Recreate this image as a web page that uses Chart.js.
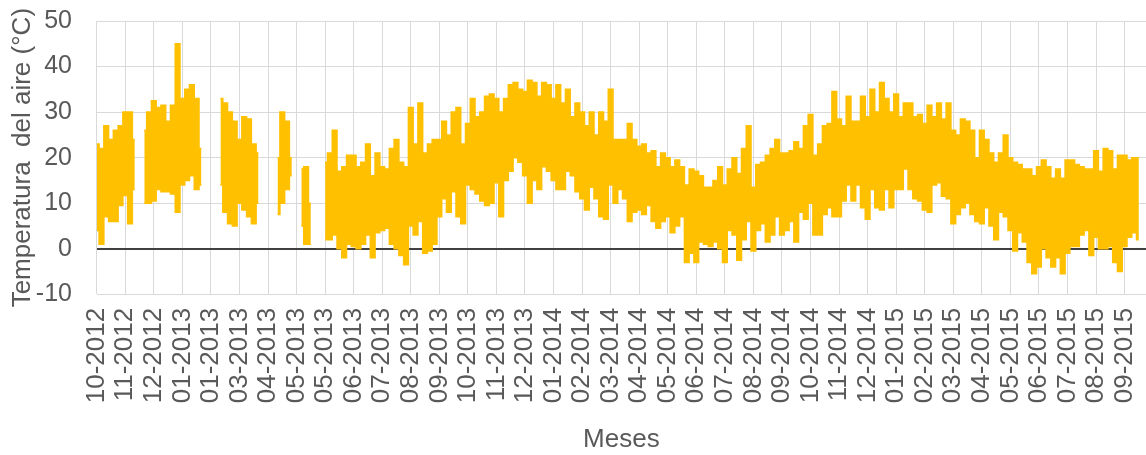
<!DOCTYPE html>
<html>
<head>
<meta charset="utf-8">
<script src="https://cdn.jsdelivr.net/npm/chart.js@4.4.1/dist/chart.umd.min.js"></script>
<style>
  html, body { margin: 0; padding: 0; background: #fff; }
  canvas { display: block; }
</style>
</head>
<body>
<canvas id="chart" width="1146" height="455"></canvas>
<script>
// readings between two labelled ticks
const PER_TICK = 6

const TICK_LABELS = [
	'10-2012', '11-2012', '12-2012', '01-2013', '01-2013', '03-2013', '04-2013', '05-2013',
	'05-2013', '06-2013', '07-2013', '08-2013', '09-2013', '10-2013', '11-2013', '12-2013',
	'01-2014', '02-2014', '03-2014', '04-2014', '05-2014', '06-2014', '07-2014', '08-2014',
	'09-2014', '10-2014', '11-2014', '12-2014', '01-2015', '02-2015', '03-2015', '04-2015',
	'05-2015', '06-2015', '07-2015', '08-2015', '09-2015'
]

// upper edge of the hourly trace (°C), one row per tick interval
const T_HIGH = [
	23, 22, 27, 24, 26, 27,
	30, 30, 24, null, 26, 30,
	32.5, 31, 31.5, 28, 31.5, 45,
	33, 35, 36, 33, 22, null,
	null, null, 33, 32, 30, 28,
	24, 29, 28.5, 23, 21, null,
	null, null, 20, 30, 28, 20,
	null, 17.5, 18, 10, null, null,
	19, 21, 26, 17, 18, 20.5,
	20.5, 18, 19, 23, 16, 21,
	18, 17.5, 22, 24, 19, 18,
	31, 23, 32, 21, 23, 24,
	24, 28, 25, 30, 31, 23,
	27.5, 33, 29, 30, 33.5, 34,
	33, 30, 33, 36, 36.5, 35,
	34.5, 37, 36.5, 33.5, 36.5, 36,
	33, 36, 32, 35, 29, 32,
	30, 27, 30, 25, 30, 28,
	35, 24, 24, 24, 27.5, 24,
	22.5, 23, 21, 21.5, 18, 21,
	20, 18, 19.5, 18, 14, 17.5,
	17, 16, 13.5, 13.5, 15, 18,
	14, 17.5, 20, 16.5, 22, 27,
	13.5, 18.5, 19, 20.5, 22, 24,
	21, 21, 21.5, 23.5, 22, 27,
	29.5, 20.5, 23, 27, 27.5, 34.5,
	28.5, 27, 33.5, 28, 28, 33.5,
	29, 35, 30, 36.5, 33, 30,
	34, 29, 32, 32, 29, 29.5,
	27.5, 31.5, 29, 32, 28.5, 32,
	26, 25, 28.5, 28, 26, 20,
	26, 24, 21, 19, 21, 25,
	20, 19, 18.5, 17.5, 17.5, 16,
	18, 19.5, 18, 15.5, 17.5, 15.5,
	19.5, 19.5, 18.5, 18, 17.5, 17.5,
	21.5, 17, 22, 21.5, 17.5, 20.5,
	20.5, 19.5, 20, 20
]

// lower edge of the hourly trace (°C)
const T_LOW = [
	4, 1, 7, 6, 6, 9.5,
	11.7, 5.5, 13, null, 10, 10,
	10.5, 13, 12.5, 12.5, 12, 8,
	14, 15, 16, 13, 14, null,
	null, null, 14, 8, 5.5, 5,
	10, 8.5, 7, 5.5, 10, null,
	null, null, 7.5, 10, 13, 16,
	null, 5, 1, 1, null, null,
	2, 2, 3, 0, -2, 1,
	0.5, 0, 1, 3, -2, 3.5,
	4, 4.5, 1, 0, -1.5, -3.5,
	5, 3, 6, -1, -0.5, 1,
	7, 11, 8, 12.5, 7, 5.5,
	14, 13, 12, 10.5, 9.5, 10,
	14.5, 7, 15, 17, 20, 19,
	16, 10, 15, 13, 18, 17,
	15, 13, 13, 17, 16, 12.5,
	11, 8.5, 13.5, 11, 7, 6.5,
	14, 10, 13, 11, 6, 8,
	8.5, 7.5, 9.5, 6, 4.5, 6,
	7, 3.5, 5, 7, -3, -1,
	-3, 1.5, 1, 0.5, 1.5, 0,
	-3, 4, 3, -2.5, 2, 6,
	-0.5, 4, 5.5, 1.5, 3, 7,
	3, 4, 6, 1.5, 8, 6.5,
	10, 3, 3, 7.5, 9, 7,
	7, 10.5, 14, 10.5, 14, 9,
	6.5, 13, 9, 8.5, 13, 9,
	13, 13, 17.5, 13, 11, 10.5,
	8.5, 8, 14, 14.5, 11.5, 11,
	5.5, 7.5, 9, 10, 7.5, 6,
	5.5, 9, 5, 2, 8, 7,
	4, -0.5, 3.5, 1.5, -3, -5.5,
	-4, 0, -2, -4, -2, -5.5,
	-1, 0.5, 0.5, 3, 4, -1.5,
	2.5, 0, 0, 0.5, -3, -5,
	0.5, 2.5, 3.5, 2
]

const ORANGE = '#FFC000'
const TEXT = '#595959'
const GRID = '#d9d9d9'
const FONT = "'Liberation Sans', Arial, sans-serif"

const toPoints = values => values.map((y, i) => ({ x: i / PER_TICK, y }))

new Chart(document.getElementById('chart'), {
	type: 'line',
	data: {
		datasets: [
			{
				label: 'max',
				data: toPoints(T_HIGH),
				borderColor: ORANGE,
				backgroundColor: ORANGE,
				borderWidth: 1.5,
				pointRadius: 0,
				stepped: 'middle',
				fill: '+1'
			},
			{
				label: 'min',
				data: toPoints(T_LOW),
				borderColor: ORANGE,
				borderWidth: 1.5,
				pointRadius: 0,
				stepped: 'middle',
				fill: false
			}
		]
	},
	options: {
		responsive: false,
		animation: false,
		spanGaps: false,
		layout: { padding: { top: 21, left: 10, right: 0, bottom: 0 } },
		plugins: {
			legend: { display: false },
			tooltip: { enabled: false }
		},
		scales: {
			x: {
				type: 'linear',
				min: 0,
				max: 36.75,
				border: { display: false },
				grid: { color: GRID, drawTicks: false },
				ticks: {
					stepSize: 1,
					maxTicksLimit: 40,
					includeBounds: false,
					autoSkip: false,
					minRotation: 90,
					maxRotation: 90,
					padding: 13.5,
					color: TEXT,
					font: { family: FONT, size: 26 },
					callback: v => TICK_LABELS[v] ?? ''
				},
				title: {
					display: true,
					text: 'Meses',
					color: TEXT,
					font: { family: FONT, size: 26 },
					padding: { top: 0, bottom: 0 }
				},
				afterFit(scale) {
					// axis band below the plot, as in the original
					scale.height = 160.7
					scale.paddingLeft = 0
					scale.paddingRight = 0
				}
			},
			y: {
				min: -10,
				max: 50,
				border: { display: false },
				grid: {
					drawTicks: false,
					color: ctx => ctx.tick.value === 0 ? '#404040' : GRID,
					lineWidth: ctx => ctx.tick.value === 0 ? 2 : 1
				},
				ticks: {
					stepSize: 10,
					padding: 24.7,
					color: TEXT,
					font: { family: FONT, size: 25 }
				},
				title: {
					display: true,
					text: 'Temperatura  del aire (°C)',
					color: TEXT,
					font: { family: FONT, size: 26, lineHeight: 1 },
					padding: { top: 0, bottom: 0 }
				},
				afterFit(scale) {
					scale.width = 86.7
					scale.paddingTop = 0
					scale.paddingBottom = 0
				}
			}
		}
	}
});
</script>
</body>
</html>
